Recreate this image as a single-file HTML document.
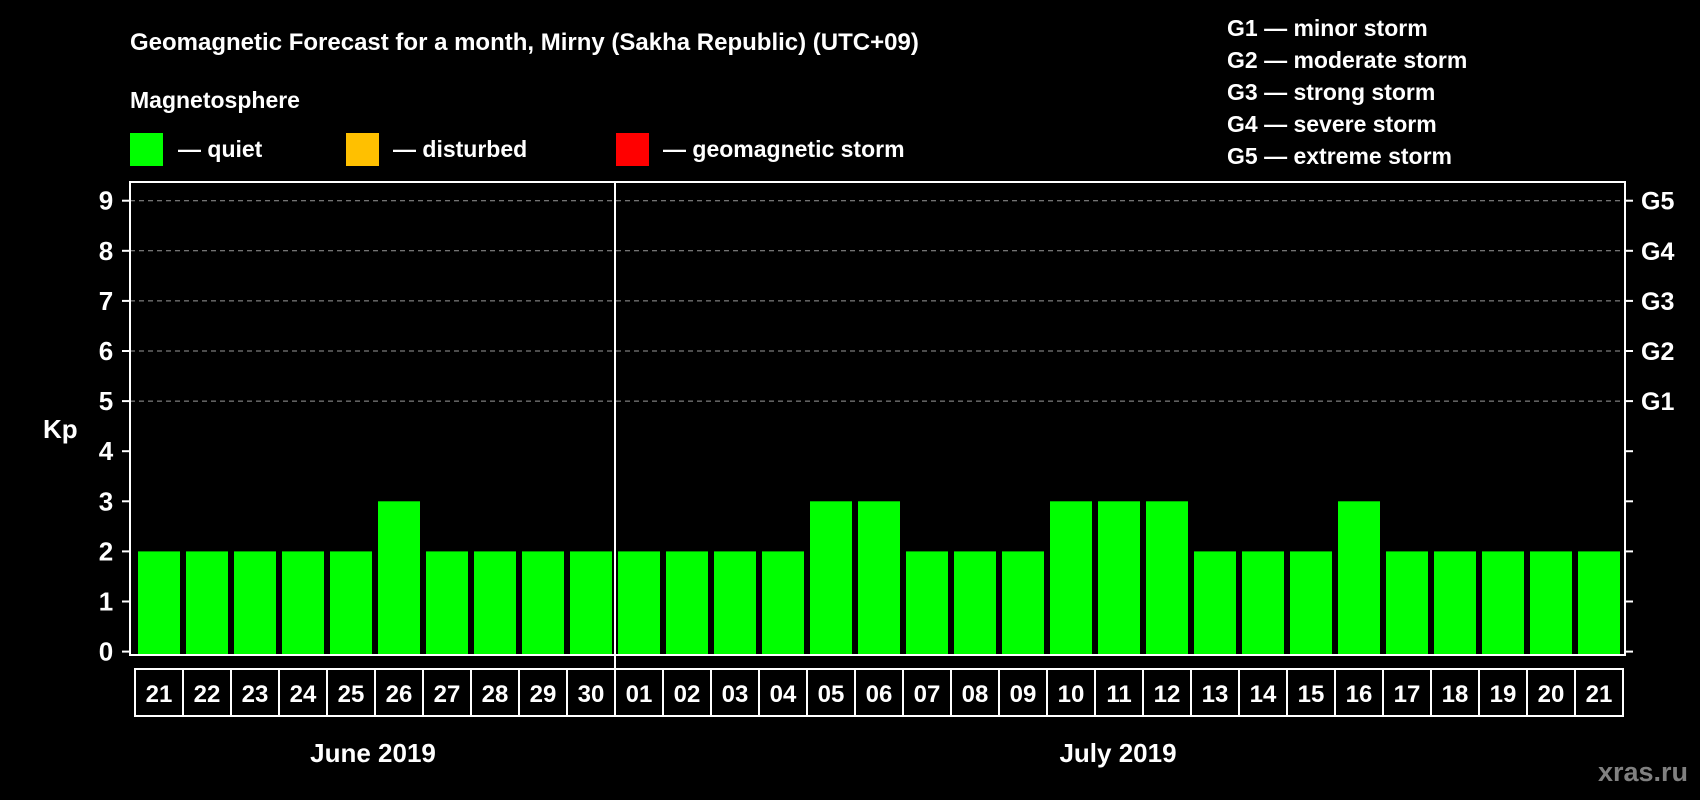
<!DOCTYPE html>
<html><head><meta charset="utf-8"><style>
body{margin:0;background:#000;}
svg{display:block;font-family:"Liberation Sans",Arial,sans-serif;font-weight:bold;}
</style></head><body>
<svg width="1700" height="800" viewBox="0 0 1700 800">
<rect width="1700" height="800" fill="#000"/>
<text x="130" y="50" fill="#fff" font-size="24">Geomagnetic Forecast for a month, Mirny (Sakha Republic) (UTC+09)</text>
<text x="130" y="108" fill="#fff" font-size="23">Magnetosphere</text>
<rect x="130" y="133" width="33" height="33" fill="#00ff00"/>
<text x="178" y="157" fill="#fff" font-size="23">— quiet</text>
<rect x="346" y="133" width="33" height="33" fill="#ffc000"/>
<text x="393" y="157" fill="#fff" font-size="23">— disturbed</text>
<rect x="616" y="133" width="33" height="33" fill="#ff0000"/>
<text x="663" y="157" fill="#fff" font-size="23">— geomagnetic storm</text>
<g fill="#fff" font-size="23">
<text x="1227" y="36">G1 — minor storm</text>
<text x="1227" y="68">G2 — moderate storm</text>
<text x="1227" y="100">G3 — strong storm</text>
<text x="1227" y="132">G4 — severe storm</text>
<text x="1227" y="164">G5 — extreme storm</text>
</g>
<text x="43" y="438" fill="#fff" font-size="26">Kp</text>
<g id="grid"></g>
<g id="bars"></g>
<g id="axes"></g>
<text x="373" y="762" fill="#fff" font-size="26" text-anchor="middle">June 2019</text>
<text x="1118" y="762" fill="#fff" font-size="26" text-anchor="middle">July 2019</text>
<text x="1688" y="781" fill="#808080" font-size="27" text-anchor="end">xras.ru</text>
</svg>
<script>
const days=["21","22","23","24","25","26","27","28","29","30","01","02","03","04","05","06","07","08","09","10","11","12","13","14","15","16","17","18","19","20","21"];
const kpValues=[2,2,2,2,2,3,2,2,2,2,2,2,2,2,3,3,2,2,2,3,3,3,2,2,2,3,2,2,2,2,2];
const yTicks=[0,1,2,3,4,5,6,7,8,9];
const gLabels=["G1","G2","G3","G4","G5"];
const gLevels=[5,6,7,8,9];
const NS="http://www.w3.org/2000/svg";
const L=130,R=1625,T=182,B=655;
const y=v=>651.6-v*50.1;
const pitch=48,x0=138,bw=42;
const x=i=>x0+i*pitch;
function mk(t,a,p){const e=document.createElementNS(NS,t);for(const k in a)e.setAttribute(k,a[k]);p.appendChild(e);return e;}
const grid=document.getElementById('grid'),bars=document.getElementById('bars'),axes=document.getElementById('axes');
gLevels.forEach((v,i)=>{
 const l=mk('line',{x1:L,x2:R,y1:y(v),y2:y(v),stroke:'#999','stroke-width':1,'stroke-dasharray':'5,4'},grid);
 
 
 const t=mk('text',{x:1641,y:y(v)+9,fill:'#fff','font-size':25},axes);t.textContent=gLabels[i];
 
 
});
kpValues.forEach((v,i)=>{
 const c=v>=5?'#ff0000':(v>=4?'#ffc000':'#00ff00');
 const r=mk('rect',{x:x(i),y:y(v),width:bw,height:B-y(v),fill:c},bars);
 
 
 const bx=mk('rect',{x:x(i)-3,y:669,width:pitch,height:47,fill:'none',stroke:'#fff','stroke-width':2},axes);
 
 
 const t=mk('text',{x:x(i)-3+pitch/2,y:702,fill:'#fff','font-size':24,'text-anchor':'middle'},axes);t.textContent=days[i];
 
 
});
const fr=mk('rect',{x:L,y:T,width:R-L,height:B-T,fill:'none',stroke:'#fff','stroke-width':2},axes);


const dv=mk('line',{x1:x(10)-3,x2:x(10)-3,y1:T,y2:716,stroke:'#fff','stroke-width':2},axes);


yTicks.forEach(v=>{
 mk('line',{x1:L-8,x2:L,y1:y(v),y2:y(v),stroke:'#fff','stroke-width':2},axes);
 mk('line',{x1:R,x2:R+8,y1:y(v),y2:y(v),stroke:'#fff','stroke-width':2},axes);
 const t=mk('text',{x:106,y:y(v)+9,fill:'#fff','font-size':26,'text-anchor':'middle'},axes);t.textContent=v;
 
 
});
</script>
</body></html>
